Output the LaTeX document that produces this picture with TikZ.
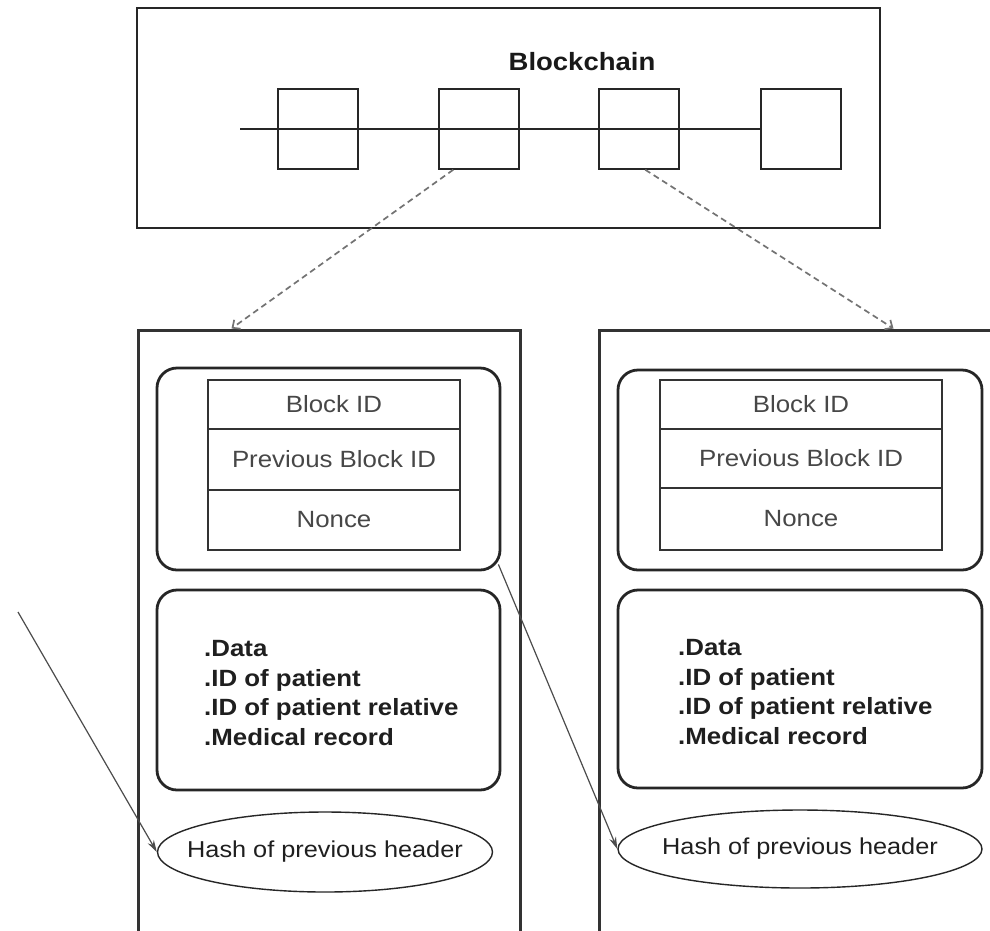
\documentclass[tikz,border=0pt]{standalone}
\usepackage{fontspec}
\setmainfont{Liberation Sans}[FakeStretch=1.1]
\usetikzlibrary{arrows.meta,calc,shapes.geometric}

\begin{document}
\begin{tikzpicture}[x=1pt,y=-1pt,
  frame/.style={draw=black!85, line width=1.5pt, inner sep=0pt},
  chainblock/.style={draw=black!85, line width=1.5pt, minimum width=80, minimum height=80, inner sep=0pt},
  column/.style={draw=black!80, line width=3pt, inner sep=0pt},
  panel/.style={draw=black!85, line width=2.8pt, rounded corners=20pt, inner sep=0pt},
  cell/.style={draw=black!80, line width=1.4pt, inner sep=0pt,
    font=\fontsize{23.5}{28}\selectfont, text=black!72},
  hashnode/.style={ellipse, draw=black!85, line width=1.4pt, inner sep=0pt},
  hashtext/.style={inner sep=0pt, font=\fontsize{23}{28}\selectfont, text=black!88},
  datatext/.style={align=left, anchor=west, inner sep=0pt,
    font=\bfseries\fontsize{23.5}{29.5}\selectfont, text=black!88},
  link/.style={draw=black!85, line width=1.4pt},
  ref/.style={draw=black!70, line width=1.2pt, -{Stealth[length=12pt,width=7pt]}},
  dasharrow/.style={draw=black!55, line width=1.7pt, dash pattern=on 6pt off 4pt,
    -{Straight Barb[length=6pt,width=11pt]}}
]
\useasboundingbox (0,0) rectangle (990,930);
\clip (0,0) rectangle (990,930);
\fill[white] (0,0) rectangle (990,930);

% --- the chain of blocks ---
\node[frame, minimum width=743, minimum height=220] (chain) at (508.5,118) {};
\node[font=\bfseries\fontsize{25}{30}\selectfont, text=black!90] (title) at (582,62) {Blockchain};
\node[chainblock] (b1) at (318,129) {};
\node[chainblock] (b2) at (479,129) {};
\node[chainblock] (b3) at (639,129) {};
\node[chainblock] (b4) at (801,129) {};
\coordinate (chainstart) at (240,129);
\draw[link] (chainstart) -- (b4.west);

% --- two expanded blocks ---
\node[column, minimum width=382, minimum height=620] (lcol) at (329,640) {};
\node[column, minimum width=420, minimum height=620] (rcol) at (809,640) {};

% left block: header, data, hash
\node[panel, minimum width=343, minimum height=202] (lhead) at (328.5,469) {};
\node[cell, minimum width=252, minimum height=49] (lid) at (334,404.5) {Block ID};
\node[cell, minimum width=252, minimum height=61] (lprev) at (334,459.5) {Previous Block ID};
\node[cell, minimum width=252, minimum height=60] (lnonce) at (334,520) {Nonce};
\node[panel, minimum width=343, minimum height=200] (ldata) at (328.5,690) {};
\node[datatext] (ltext) at (204,693) {.Data\\.ID of patient\\.ID of patient relative\\.Medical record};
\node[hashnode, minimum width=335, minimum height=80] (lhash) at (325,852) {};
\node[hashtext] (lhashtext) at (lhash.center) {Hash of previous header};

% right block: header, data, hash
\node[panel, minimum width=364, minimum height=200] (rhead) at (800,470) {};
\node[cell, minimum width=282, minimum height=49] (rid) at (801,404.5) {Block ID};
\node[cell, minimum width=282, minimum height=59] (rprev) at (801,458.5) {Previous Block ID};
\node[cell, minimum width=282, minimum height=62] (rnonce) at (801,519) {Nonce};
\node[panel, minimum width=364, minimum height=198] (rdata) at (800,689) {};
\node[datatext] (rtext) at (678,692) {.Data\\.ID of patient\\.ID of patient relative\\.Medical record};
\node[hashnode, minimum width=364, minimum height=78] (rhash) at (800,849) {};
\node[hashtext] (rhashtext) at (rhash.center) {Hash of previous header};

% --- connectors ---
\draw[dasharrow] ($(b2.south west)+(15,0)$) -- ($(lcol.north west)+(95,0)$);
\draw[dasharrow] ($(b3.south west)+(47,0)$) -- ($(rcol.north west)+(296,0)$);
\coordinate (incoming) at (18,612);
\draw[ref] (incoming) -- (lhash.west);
\draw[ref] ($(lhead.south east)+(-3,-7)$) -- (rhash.west);
\end{tikzpicture}
\end{document}
